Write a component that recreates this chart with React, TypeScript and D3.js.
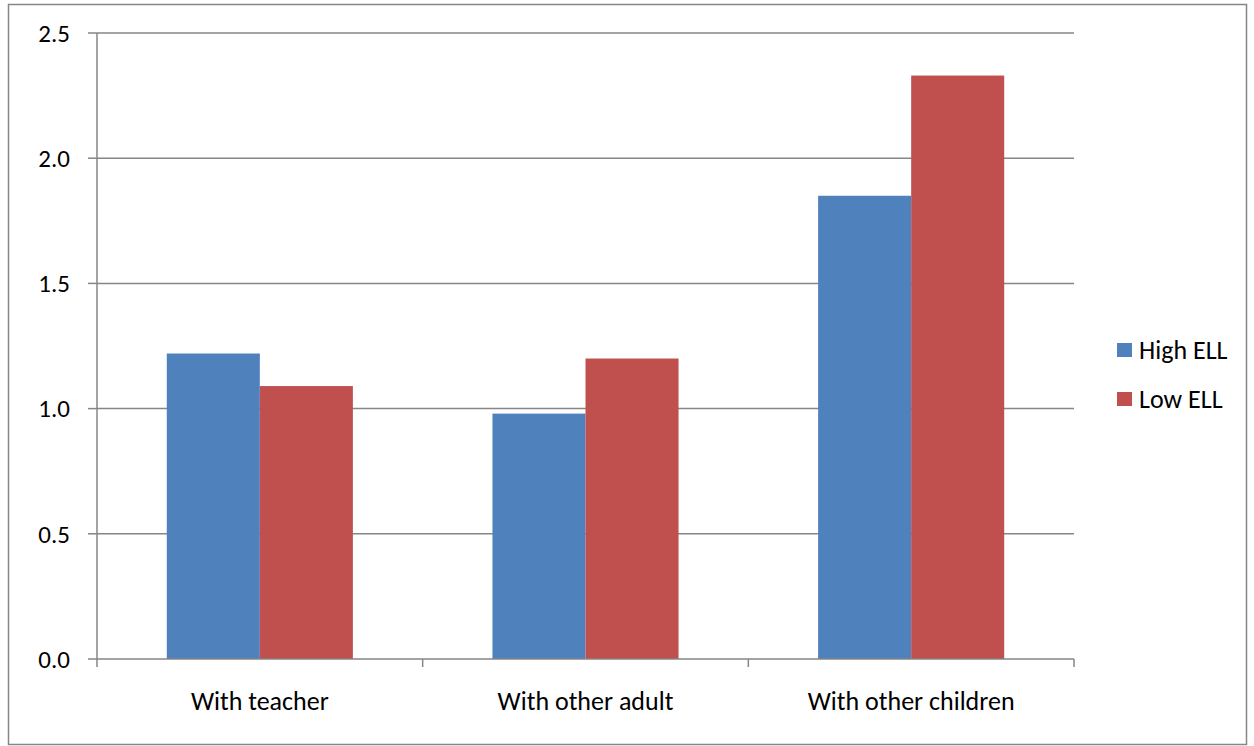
import React from "react";
import * as d3 from "d3";

const categories = ["With teacher", "With other adult", "With other children"];
const seriesNames = ["High ELL", "Low ELL"];
const highELL = [1.22, 0.98, 1.85];
const lowELL = [1.09, 1.2, 2.33];
const yTicks = [0, 0.5, 1.0, 1.5, 2.0, 2.5];
const colors = ["#4F81BD", "#C0504D"];

export default function App() {
  const W = 1254, H = 746;
  const left = 97, right = 1074, top = 33, bottom = 659;
  const font = "Carlito, Calibri, Lato, 'Open Sans', sans-serif";
  const x = d3.scaleBand<string>().domain(categories).range([left, right]).paddingInner(0).paddingOuter(0);
  const y = d3.scaleLinear().domain([0, 2.5]).range([bottom, top]);
  const bw = x.bandwidth();
  const barW = bw / 3.5;
  const series = [highELL, lowELL];
  const gridColor = "#868686";
  return (
    <svg width={W} height={H} style={{ position: "absolute", left: 0, top: 0, background: "#fff" }}>
      <rect x={8.5} y={4.5} width={1238} height={740} fill="#fff" stroke="#868686" strokeWidth={1.5} />
      {yTicks.map((t) => (
        <g key={t}>
          {t > 0 && <line x1={left} x2={right} y1={y(t)} y2={y(t)} stroke={gridColor} strokeWidth={1.5} />}
          <line x1={88} x2={left} y1={y(t)} y2={y(t)} stroke={gridColor} strokeWidth={1.5} />
          <text x={70} y={y(t)} dy="0.35em" textAnchor="end" fontFamily={font} fontSize={25} fill="#000">
            {t.toFixed(1)}
          </text>
        </g>
      ))}
      {categories.map((c, i) =>
        series.map((s, j) => {
          const x0 = (x(c) as number) + (bw - 2 * barW) / 2 + j * barW;
          return (
            <rect key={c + j} x={x0} y={y(s[i])} width={barW} height={bottom - y(s[i])} fill={colors[j]} />
          );
        })
      )}
      <line x1={left} x2={left} y1={top} y2={bottom + 8} stroke={gridColor} strokeWidth={1.5} />
      <line x1={left} x2={right} y1={bottom} y2={bottom} stroke={gridColor} strokeWidth={1.5} />
      {categories.map((c) => (
        <line key={c} x1={(x(c) as number) + bw} x2={(x(c) as number) + bw} y1={bottom} y2={bottom + 8} stroke={gridColor} strokeWidth={1.5} />
      ))}
      {categories.map((c) => (
        <text key={c} x={(x(c) as number) + bw / 2} y={701} dy="0.35em" textAnchor="middle" fontFamily={font} fontSize={26} fill="#000">
          {c}
        </text>
      ))}
      {seriesNames.map((n, j) => (
        <g key={n}>
          <rect x={1117} y={343 + j * 49} width={15} height={14} fill={colors[j]} />
          <text x={1139} y={350 + j * 49} dy="0.35em" fontFamily={font} fontSize={26} fill="#000">
            {n}
          </text>
        </g>
      ))}
    </svg>
  );
}
